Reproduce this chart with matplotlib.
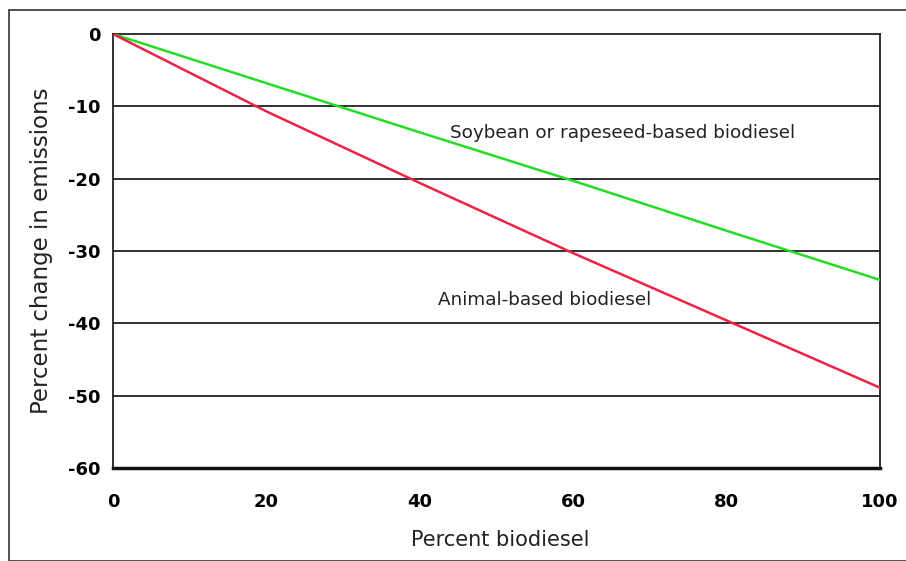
import matplotlib

matplotlib.use("Agg")
import matplotlib.pyplot as plt
from matplotlib.patches import Rectangle

plt.rcParams["font.family"] = ["DejaVu Sans"]

percent_biodiesel = [0, 20, 40, 60, 80, 100]
soy_change = [0, -6.8, -13.6, -20.3, -27.2, -34]
animal_change = [0, -10.7, -20.6, -30.3, -39.6, -48.9]
y_ticks = [0, -10, -20, -30, -40, -50, -60]
x_ticks = [0, 20, 40, 60, 80, 100]

fig = plt.figure(figsize=(9.06, 5.61), dpi=100)
ax = fig.add_axes([113 / 906, 1 - 468 / 561, (880 - 113) / 906, (468 - 34) / 561])

# outer frame of the picture
fig.patches.append(Rectangle((9 / 906, 0.5 / 561), 1.2, 1 - 10.5 / 561, transform=fig.transFigure,
                             fill=False, edgecolor="#444444", linewidth=1.3))

for y in y_ticks[1:-1]:
    ax.axhline(y, color="#222222", linewidth=1.3, zorder=1)

ax.plot(percent_biodiesel, soy_change, color="#22dd22", linewidth=1.8, zorder=3)
ax.plot(percent_biodiesel, animal_change, color="#ee2244", linewidth=1.8, zorder=3)

ax.text(66.4, -13.7, "Soybean or rapeseed-based biodiesel", ha="center", va="center",
        fontsize=13.2, color="#222222")
ax.text(56.3, -36.8, "Animal-based biodiesel", ha="center", va="center",
        fontsize=13.2, color="#222222")

ax.set_xlim(0, 100)
ax.set_ylim(-60, 0)
ax.set_xticks(x_ticks)
ax.set_yticks(y_ticks)
ax.set_xticklabels([str(v) for v in x_ticks], fontweight="bold", fontsize=13)
ax.set_yticklabels([str(v) for v in y_ticks], fontweight="bold", fontsize=13)
ax.tick_params(length=0)
ax.tick_params(axis="x", pad=18)
ax.tick_params(axis="y", pad=9)

for side in ["top", "left", "right"]:
    ax.spines[side].set_linewidth(1.3)
    ax.spines[side].set_color("#222222")
ax.spines["bottom"].set_linewidth(2.5)
ax.spines["bottom"].set_color("#111111")

ax.set_xlabel("Percent biodiesel", fontsize=15, color="#222222")
ax.set_ylabel("Percent change in emissions", fontsize=16.5, color="#222222")
ax.xaxis.set_label_coords(0.505, -0.142)
ax.yaxis.set_label_coords(-0.078, 0.5)

fig.savefig("out.png", dpi=100)
plt.close(fig)
